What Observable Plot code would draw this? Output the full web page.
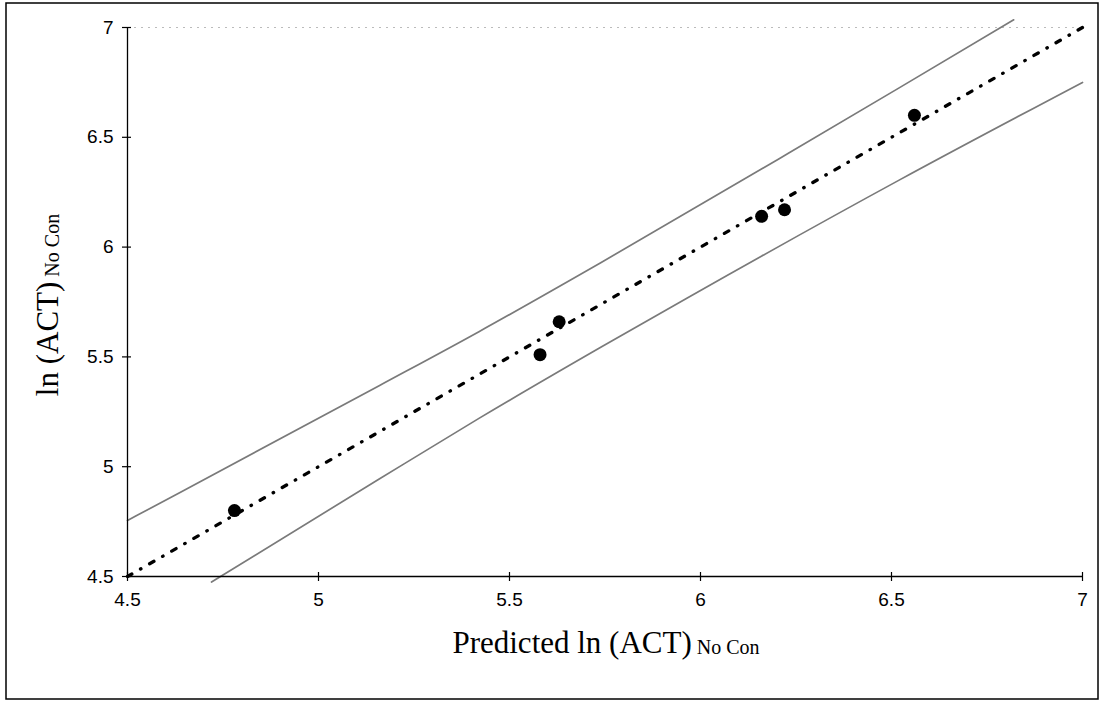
<!DOCTYPE html>
<html>
<head>
<meta charset="utf-8">
<script src="https://cdn.jsdelivr.net/npm/d3@7"></script>
<script src="https://cdn.jsdelivr.net/npm/@observablehq/plot@0.6"></script>
<style>
  html, body { margin: 0; padding: 0; background: #fff; color: #000; }
  #chart svg { display: block; }
</style>
</head>
<body>
<div id="chart"></div>
<script>
// Tick values / labels
const xTicks = [4.5, 5, 5.5, 6, 6.5, 7];
const yTicks = [4.5, 5, 5.5, 6, 6.5, 7];
const tickLabels = ["4.5", "5", "5.5", "6", "6.5", "7"];

// Observed points: predicted vs actual ln(ACT)
const ptX = [4.78, 5.58, 5.63, 6.16, 6.22, 6.56];
const ptY = [4.80, 5.51, 5.66, 6.14, 6.17, 6.60];

// Line of equality (dotted)
const fitX = [4.5, 7];
const fitY = [4.5, 7];

// Upper interval band
const upX = [4.5, 4.64, 5.16, 5.42, 5.74, 6.23, 6.52, 6.82];
const upY = [4.755, 4.885, 5.37, 5.615, 5.93, 6.427, 6.725, 7.035];

// Lower interval band
const loX = [4.72, 5.16, 5.42, 5.74, 5.97, 6.52, 7.0];
const loY = [4.475, 4.945, 5.22, 5.545, 5.773, 6.305, 6.75];

const pts = ptX.map((x, i) => ({x, y: ptY[i]}));
const fit = fitX.map((x, i) => ({x, y: fitY[i]}));
const up = upX.map((x, i) => ({x, y: upY[i]}));
const lo = loX.map((x, i) => ({x, y: loY[i]}));

const fmt = d => tickLabels[xTicks.indexOf(d)];

const chart = Plot.plot({
  width: 1111,
  height: 702,
  marginLeft: 127,
  marginRight: 29,
  marginTop: 27,
  marginBottom: 126,
  x: {domain: [4.5, 7]},
  y: {domain: [4.5, 7]},
  style: {background: "#fff", color: "#000", fontFamily: "'Liberation Sans', Arial, sans-serif"},
  marks: [
    Plot.ruleY([7], {stroke: "#bbb", strokeDasharray: "2,5"}),
    Plot.line(up, {x: "x", y: "y", stroke: "#7a7a7a", strokeWidth: 1.7, curve: "monotone-x"}),
    Plot.line(lo, {x: "x", y: "y", stroke: "#7a7a7a", strokeWidth: 1.7, curve: "monotone-x"}),
    Plot.line(fit, {x: "x", y: "y", stroke: "#000", strokeWidth: 3.3, strokeDasharray: "5,10,0.5,10", strokeLinecap: "round"}),
    Plot.ruleY([4.5], {stroke: "#000", strokeWidth: 1.3}),
    Plot.ruleX([4.5], {stroke: "#000", strokeWidth: 1.3}),
    Plot.ruleX(xTicks, {y1: 4.5, y2: 4.5, insetTop: -4, insetBottom: -5, stroke: "#000", strokeWidth: 1.2}),
    Plot.ruleY(yTicks, {x1: 4.5, x2: 4.5, insetLeft: -5, insetRight: -4, stroke: "#000", strokeWidth: 1.2}),
    Plot.dot(pts, {x: "x", y: "y", r: 6.5, fill: "#000", stroke: "none"}),
    Plot.axisX(xTicks, {tickSize: 0, tickPadding: 16, fontSize: 19, label: null, tickFormat: fmt}),
    Plot.axisY(yTicks, {tickSize: 0, tickPadding: 14, fontSize: 19, label: null, tickFormat: fmt})
  ]
});

document.getElementById("chart").appendChild(chart);

// Figure frame and axis titles with subscripts
const svg = d3.select(chart);
svg.insert("rect", ":first-child")
  .attr("x", 6).attr("y", 3).attr("width", 1092).attr("height", 696)
  .attr("fill", "none").attr("stroke", "#000").attr("stroke-width", 1.5);

const serif = "'Liberation Serif', 'Times New Roman', serif";
const xt = svg.append("text")
  .attr("x", 606).attr("y", 653)
  .attr("text-anchor", "middle")
  .attr("font-family", serif).attr("font-size", 31).attr("fill", "#000");
xt.append("tspan").text("Predicted ln (ACT)");
xt.append("tspan").attr("font-size", 20).attr("dy", 1).text(" No Con");

const yt = svg.append("text")
  .attr("transform", "translate(58,305) rotate(-90)")
  .attr("text-anchor", "middle")
  .attr("font-family", serif).attr("font-size", 31).attr("fill", "#000");
yt.append("tspan").text("ln (ACT)");
yt.append("tspan").attr("font-size", 20).attr("dy", 1).text(" No Con");
</script>
</body>
</html>
